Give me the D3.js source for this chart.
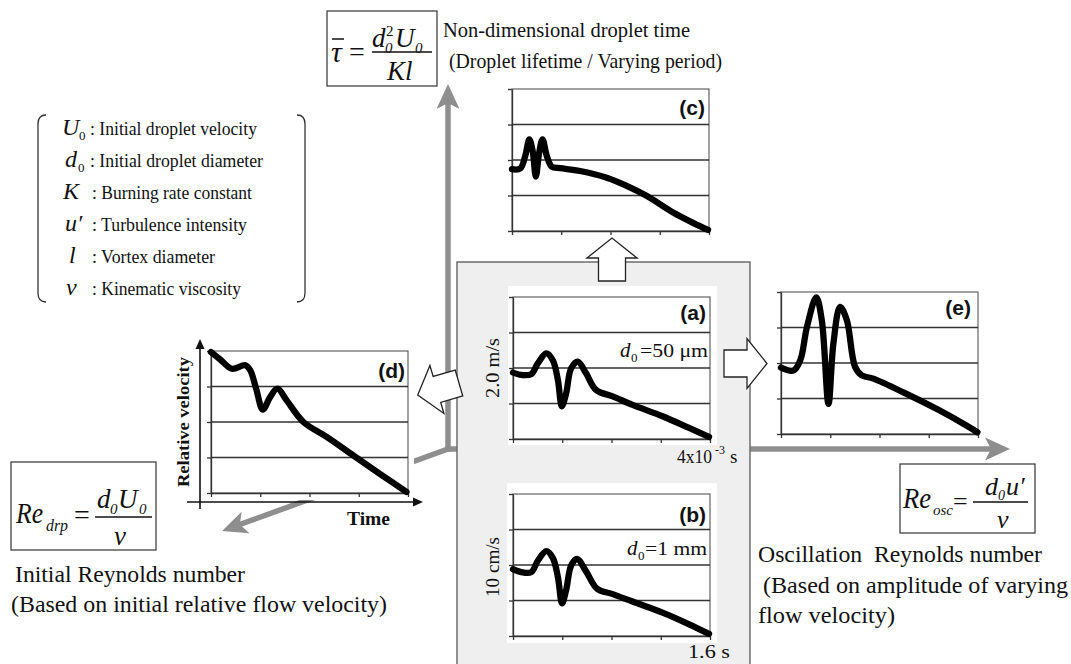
<!DOCTYPE html>
<html><head><meta charset="utf-8">
<script src="https://cdn.jsdelivr.net/npm/d3@7"></script>
<style>html,body{margin:0;padding:0;background:#fff;} svg{display:block;}</style>
</head><body>
<svg id="c" width="1071" height="664"></svg>
<script>
// ---------------- data ----------------
// time as fraction of panel's time span, velocity in grid units (0..4)
const timeTicks = [0, 0.25, 0.5, 0.75, 1];
const gridTicks = [0, 1, 2, 3, 4];

const tA = [0, 0.05, 0.093, 0.126, 0.169, 0.202, 0.228, 0.248, 0.27, 0.295, 0.329, 0.371, 0.422, 0.506, 0.607, 0.759, 0.894, 0.995];
const vA = [1.87, 1.80, 1.83, 2.13, 2.41, 2.22, 1.66, 0.92, 1.29, 1.99, 2.18, 1.85, 1.38, 1.20, 0.96, 0.64, 0.31, 0.06];

const tB = [0, 0.05, 0.093, 0.126, 0.169, 0.202, 0.228, 0.249, 0.27, 0.295, 0.325, 0.371, 0.427, 0.506, 0.607, 0.759, 0.894, 0.995];
const vB = [1.88, 1.79, 1.80, 2.12, 2.39, 2.20, 1.66, 0.92, 1.30, 1.98, 2.17, 1.82, 1.33, 1.18, 0.97, 0.66, 0.33, 0.06];

const tC = [0, 0.042, 0.067, 0.088, 0.105, 0.121, 0.138, 0.155, 0.177, 0.202, 0.245, 0.346, 0.481, 0.582, 0.683, 0.818, 0.919, 0.995];
const vC = [1.74, 1.76, 2.11, 2.58, 2.25, 1.53, 2.21, 2.58, 2.11, 1.81, 1.77, 1.69, 1.50, 1.27, 0.99, 0.52, 0.23, 0.03];

const tD = [0, 0.047, 0.106, 0.174, 0.199, 0.229, 0.263, 0.30, 0.337, 0.384, 0.469, 0.587, 0.722, 0.857, 0.992];
const vD = [3.97, 3.76, 3.50, 3.60, 3.46, 2.94, 2.35, 2.70, 2.94, 2.61, 2.00, 1.58, 1.06, 0.54, 0.03];

const tE = [0, 0.064, 0.098, 0.132, 0.179, 0.207, 0.241, 0.266, 0.30, 0.334, 0.376, 0.41, 0.469, 0.637, 0.806, 0.941, 0.997];
const vE = [1.87, 1.79, 2.08, 3.02, 3.85, 3.21, 0.85, 2.55, 3.58, 3.21, 1.89, 1.65, 1.56, 1.13, 0.66, 0.24, 0.05];

const panelLabels = ['(a)', '(b)', '(c)', '(d)', '(e)'];
const legendSymbols = ['U', 'd', 'K', 'u\u2032', 'l', '\u03BD'];
const legendTexts = [': Initial droplet velocity', ': Initial droplet diameter', ': Burning rate constant',
  ': Turbulence intensity', ': Vortex diameter', ': Kinematic viscosity'];

// ---------------- drawing ----------------
const svg = d3.select('#c');
const SERIF = "'Liberation Serif','Times New Roman',serif";
const SANS = "'Liberation Sans',Arial,sans-serif";
const GRAY = '#8e8e8e';
const PW = 197, PH = 142;

function T(x, y, s, o = {}) {
  const t = svg.append('text').attr('x', x).attr('y', y).text(s)
    .attr('font-family', o.ff || SERIF).attr('font-size', o.fs || 18)
    .attr('fill', o.fill || '#111').style('white-space', 'pre');
  if (o.it) t.attr('font-style', 'italic');
  if (o.bold) t.attr('font-weight', 'bold');
  if (o.anchor) t.attr('text-anchor', o.anchor);
  if (o.len) t.attr('textLength', o.len).attr('lengthAdjust', 'spacingAndGlyphs');
  if (o.rot) t.attr('x', 0).attr('y', 0).attr('transform', `translate(${x},${y}) rotate(${o.rot})`);
  return t;
}

function grayArrow(x1, y1, x2, y2) {
  const ang = Math.atan2(y2 - y1, x2 - x1) * 180 / Math.PI;
  const len = Math.hypot(x2 - x1, y2 - y1);
  const g = svg.append('g').attr('transform', `translate(${x1},${y1}) rotate(${ang})`);
  g.append('line').attr('x1', 0).attr('y1', 0).attr('x2', len - 14).attr('y2', 0)
    .attr('stroke', GRAY).attr('stroke-width', 5.5).attr('stroke-linecap', 'square');
  g.append('path').attr('d', `M${len},0 L${len - 25},-11.5 L${len - 19},0 L${len - 25},11.5 Z`).attr('fill', GRAY);
}

function hollowArrow(tx, ty, ang) {
  const p = [[0, -13.5], [23, -13.5], [23, -25], [43, 0], [23, 25], [23, 13.5], [0, 13.5]];
  svg.append('path').attr('d', d3.line()(p) + 'Z')
    .attr('transform', `translate(${tx},${ty}) rotate(${ang})`)
    .attr('fill', '#fff').attr('stroke', '#222').attr('stroke-width', 1.3).attr('stroke-linejoin', 'miter');
}

function blackArrow(x1, y1, x2, y2) {
  const ang = Math.atan2(y2 - y1, x2 - x1) * 180 / Math.PI;
  const len = Math.hypot(x2 - x1, y2 - y1);
  const g = svg.append('g').attr('transform', `translate(${x1},${y1}) rotate(${ang})`);
  g.append('line').attr('x1', 0).attr('y1', 0).attr('x2', len - 4).attr('y2', 0)
    .attr('stroke', '#111').attr('stroke-width', 1.6);
  g.append('path').attr('d', `M${len},0 L${len - 10},-4.5 L${len - 10},4.5 Z`).attr('fill', '#111');
}

function panel(cfg) {
  const g = svg.append('g');
  const x = d3.scaleLinear().domain([0, 1]).range([cfg.x, cfg.x + PW]);
  const y = d3.scaleLinear().domain([0, 4]).range([cfg.y + PH, cfg.y]);
  g.append('rect').attr('x', cfg.x).attr('y', cfg.y).attr('width', PW).attr('height', PH)
    .attr('fill', '#fff').attr('stroke', '#555').attr('stroke-width', 1.1);
  g.selectAll('line.grid').data(gridTicks.slice(1, 4)).join('line')
    .attr('x1', x(0)).attr('x2', x(1)).attr('y1', d => y(d)).attr('y2', d => y(d))
    .attr('stroke', '#333').attr('stroke-width', 1.3);
  const ax = g.append('g').attr('transform', `translate(0,${y(0)})`)
    .call(d3.axisBottom(x).tickValues(timeTicks).tickFormat('').tickSize(4).tickSizeOuter(0));
  const ay = g.append('g').attr('transform', `translate(${x(0)},0)`)
    .call(d3.axisLeft(y).tickValues(gridTicks).tickFormat('').tickSize(4).tickSizeOuter(0));
  [ax, ay].forEach(a => { a.selectAll('path,line').attr('stroke', '#333').attr('stroke-width', 1.3); });
  const line = d3.line().x((d, i) => x(cfg.t[i])).y(d => y(d)).curve(d3.curveCatmullRom.alpha(0.5));
  g.append('path').attr('d', line(cfg.v)).attr('fill', 'none').attr('stroke', '#000')
    .attr('stroke-width', 6.3).attr('stroke-linecap', 'round').attr('stroke-linejoin', 'round');
  T(cfg.x + PW - cfg.ldx, cfg.y + cfg.ly, cfg.label, { ff: SANS, fs: 21, bold: true, anchor: 'end' });
}

// gray coordinate axes
const O = [448, 449];
grayArrow(O[0], O[1], 448, 84);
grayArrow(O[0], O[1], 1010, 449);
grayArrow(O[0], O[1], 222, 531);

// central gray box
svg.append('rect').attr('x', 457).attr('y', 262).attr('width', 293).attr('height', 420)
  .attr('fill', '#efefef').attr('stroke', '#6e6e6e').attr('stroke-width', 1.5);
// white backgrounds
svg.append('rect').attr('x', 508).attr('y', 286).attr('width', 209).attr('height', 159).attr('fill', '#fff');
svg.append('rect').attr('x', 507).attr('y', 483).attr('width', 210).attr('height', 160).attr('fill', '#fff');
svg.append('rect').attr('x', 170).attr('y', 330).attr('width', 244).attr('height', 170).attr('fill', '#fff');

// panel (d) outer axes
blackArrow(200, 509, 200, 339);
blackArrow(187, 502, 423, 502);

const panels = [
  { x: 513, y: 297, t: tA, v: vA, label: panelLabels[0], ly: 23, ldx: 4 },
  { x: 513, y: 494, t: tB, v: vB, label: panelLabels[1], ly: 28, ldx: 4 },
  { x: 512, y: 89, t: tC, v: vC, label: panelLabels[2], ly: 26, ldx: 4 },
  { x: 211, y: 351, t: tD, v: vD, label: panelLabels[3], ly: 27, ldx: 3 },
  { x: 781, y: 292, t: tE, v: vE, label: panelLabels[4], ly: 23, ldx: 7 }
];
panels.forEach(panel);

// hollow arrows
hollowArrow(612, 281, -90);
hollowArrow(724, 363.5, 0);
hollowArrow(459, 383, 163.7);

// panel texts
T(499, 368, '2.0 m/s', { fs: 19, anchor: 'middle', rot: -90, len: 60 });
T(499, 567, '10 cm/s', { fs: 19, anchor: 'middle', rot: -90, len: 60 });
T(677, 463, '4x10', { fs: 19, len: 35 });
T(715, 454, '-3', { fs: 12 });
T(730, 463, 's', { fs: 19 });
T(688, 658, '1.6 s', { fs: 19, len: 42 });
T(620, 357, 'd', { fs: 21, it: true });
T(631, 362, '0', { fs: 13 });
T(640, 357, '=50 \u03BCm', { fs: 19, len: 68 });
T(627, 555, 'd', { fs: 21, it: true });
T(638, 560, '0', { fs: 13 });
T(645, 555, '=1 mm', { fs: 19, len: 62 });
T(189, 422, 'Relative velocity', { fs: 17, bold: true, anchor: 'middle', rot: -90, len: 130 });
T(347, 525, 'Time', { fs: 19, bold: true, len: 43 });

// top equation box
svg.append('rect').attr('x', 327).attr('y', 11).attr('width', 110).attr('height', 75)
  .attr('fill', '#fff').attr('stroke', '#333').attr('stroke-width', 1.2);
T(331, 62, '\u03C4', { fs: 30, it: true });
svg.append('line').attr('x1', 332).attr('x2', 344).attr('y1', 39).attr('y2', 39).attr('stroke', '#111').attr('stroke-width', 1.5);
T(349, 61, '=', { fs: 28 });
T(372, 47, 'd', { fs: 27, it: true });
T(385, 53, '0', { fs: 15, it: true });
T(386, 36, '2', { fs: 15 });
T(395, 47, 'U', { fs: 27, it: true });
T(415, 53, '0', { fs: 15, it: true });
svg.append('line').attr('x1', 372).attr('x2', 432).attr('y1', 52).attr('y2', 52).attr('stroke', '#111').attr('stroke-width', 1.3);
T(387, 80, 'Kl', { fs: 27, it: true });
T(443, 37, 'Non-dimensional droplet time', { fs: 21, len: 247 });
T(449, 68, '(Droplet lifetime / Varying period)', { fs: 21, len: 273 });

// legend with brackets
svg.append('path').attr('d', 'M46,115 Q38,115 38,124 L38,293 Q38,302 46,302')
  .attr('fill', 'none').attr('stroke', '#333').attr('stroke-width', 1.3);
svg.append('path').attr('d', 'M297,115 Q305,115 305,124 L305,293 Q305,302 297,302')
  .attr('fill', 'none').attr('stroke', '#333').attr('stroke-width', 1.3);
const symX = [62, 65, 63, 65, 69, 66];
const txtLen = [167, 173, 160, 155, 123, 149];
const txtX = [90, 90, 92, 92, 92, 92];
legendSymbols.forEach((s, i) => {
  const yb = 135 + i * 32;
  T(symX[i], yb, s, { fs: 24, it: true });
  if (i < 2) T(symX[i] + (i === 0 ? 17 : 13), yb + 5, '0', { fs: 13 });
  T(txtX[i], yb, legendTexts[i], { fs: 19, len: txtLen[i] });
});

// bottom-left equation box
svg.append('rect').attr('x', 11).attr('y', 462).attr('width', 145).attr('height', 88)
  .attr('fill', '#fff').attr('stroke', '#333').attr('stroke-width', 1.2);
T(16, 523, 'Re', { fs: 29, it: true, len: 27 });
T(46, 531, 'drp', { fs: 16, it: true, len: 22 });
T(74, 524, '=', { fs: 28 });
T(97, 508, 'd', { fs: 27, it: true });
T(110, 514, '0', { fs: 15, it: true });
T(118, 508, 'U', { fs: 27, it: true });
T(139, 514, '0', { fs: 15, it: true });
svg.append('line').attr('x1', 95).attr('x2', 152).attr('y1', 517).attr('y2', 517).attr('stroke', '#111').attr('stroke-width', 1.3);
T(114, 545, '\u03BD', { fs: 27, it: true });
T(15, 582, 'Initial Reynolds number', { fs: 24, len: 230 });
T(11, 612, '(Based on initial relative flow velocity)', { fs: 24, len: 376 });

// right equation box
svg.append('rect').attr('x', 900).attr('y', 464).attr('width', 135).attr('height', 69)
  .attr('fill', '#fff').attr('stroke', '#333').attr('stroke-width', 1.2);
T(903, 508, 'Re', { fs: 29, it: true, len: 28 });
T(933, 515, 'osc', { fs: 15, it: true, len: 20 });
T(953, 510, '=', { fs: 26 });
T(985, 495, 'd', { fs: 26, it: true });
T(998, 500, '0', { fs: 14, it: true });
T(1006, 495, 'u\u2032', { fs: 26, it: true });
svg.append('line').attr('x1', 973).attr('x2', 1028).attr('y1', 502).attr('y2', 502).attr('stroke', '#111').attr('stroke-width', 1.3);
T(997, 528, '\u03BD', { fs: 26, it: true });
T(758, 562, 'Oscillation  Reynolds number', { fs: 24, len: 284 });
T(763, 593, '(Based on amplitude of varying', { fs: 24, len: 305 });
T(758, 623, 'flow velocity)', { fs: 24, len: 137 });
</script>
</body></html>
